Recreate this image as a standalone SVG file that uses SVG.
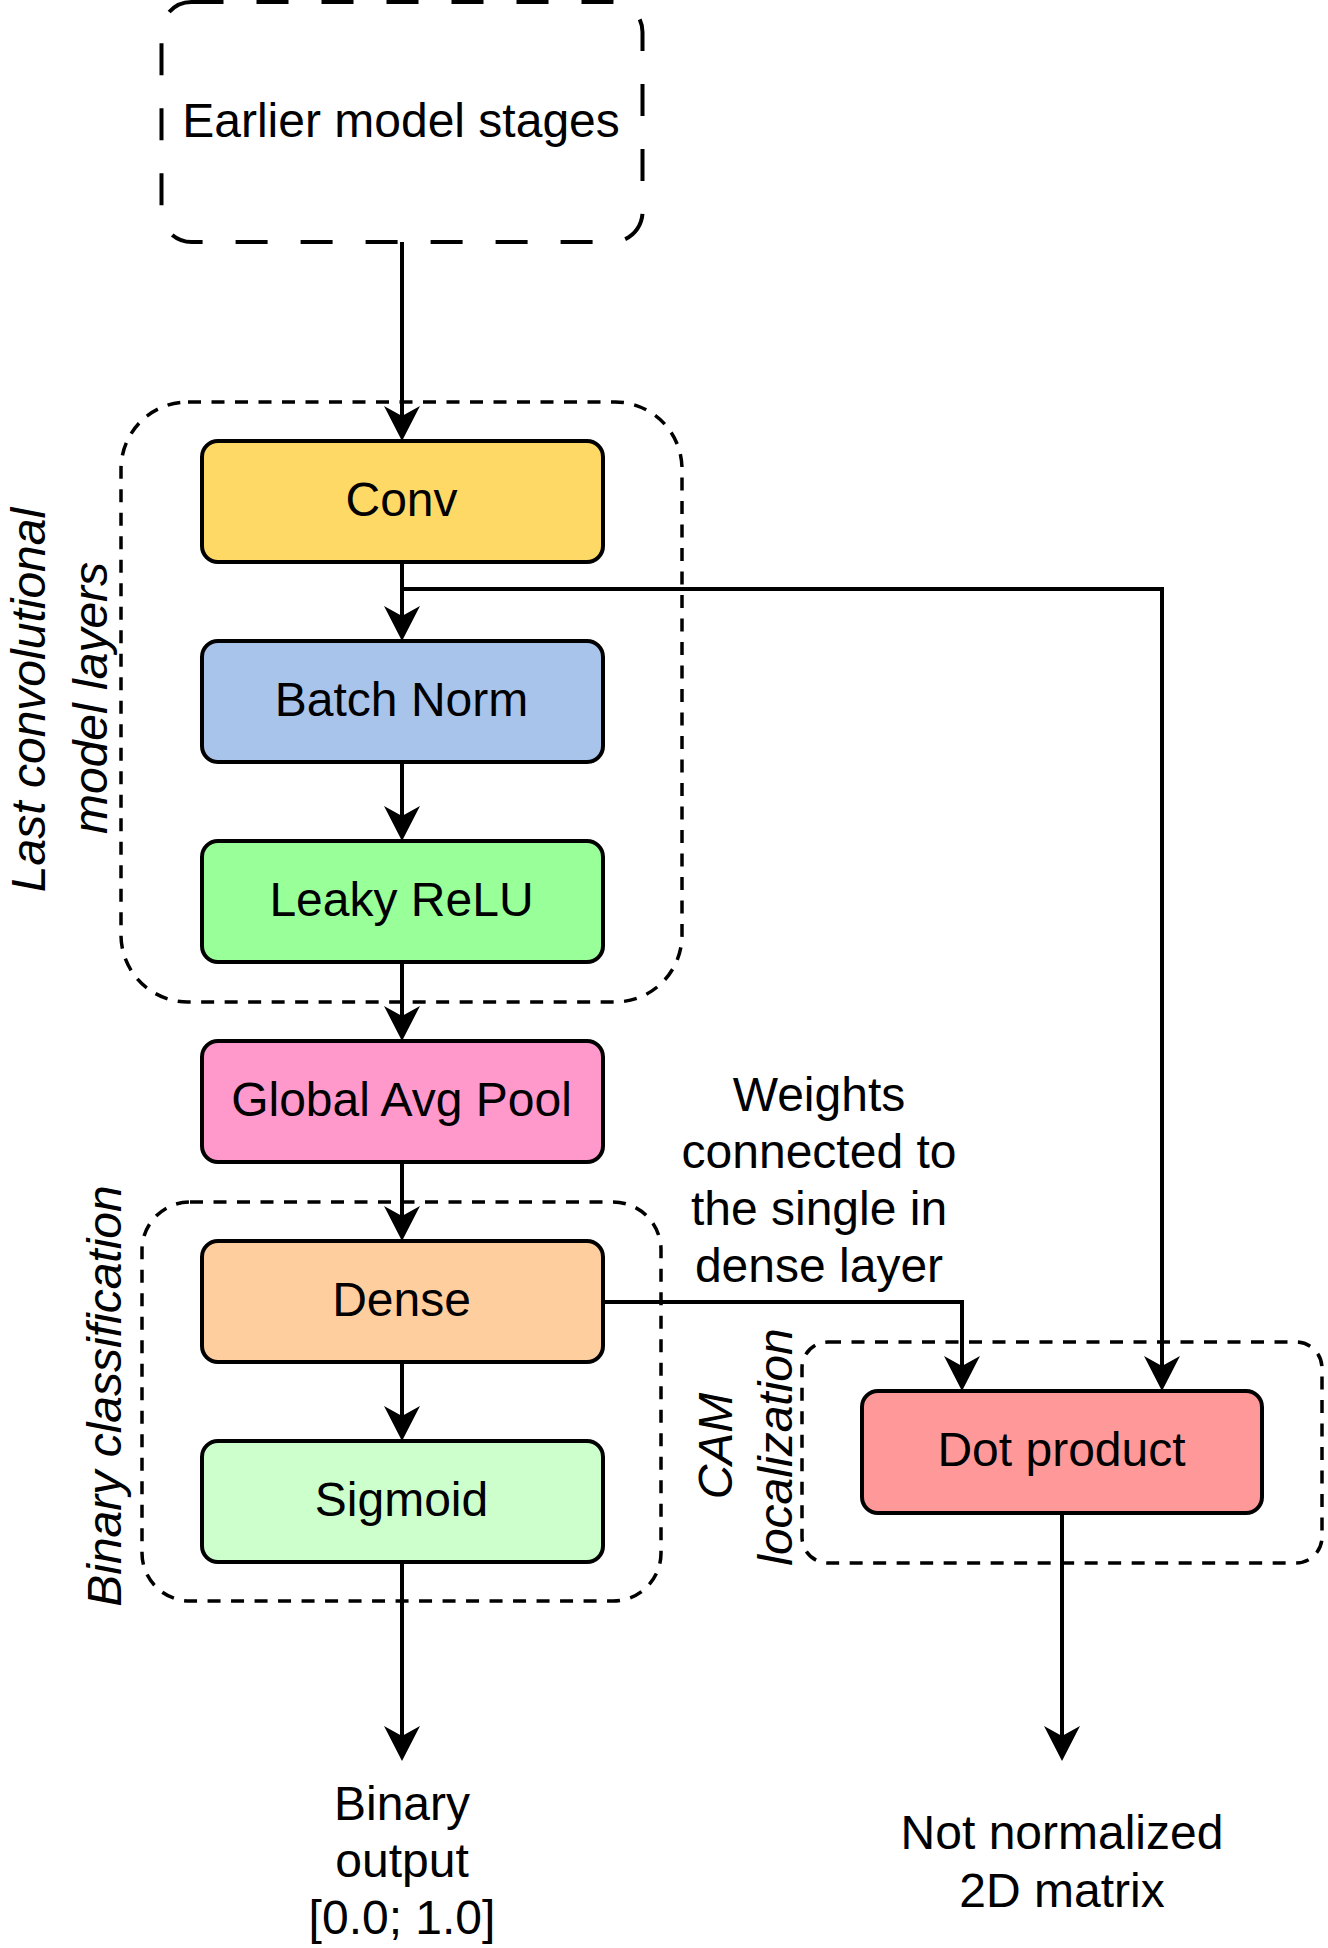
<svg xmlns="http://www.w3.org/2000/svg" width="1328" height="1948" viewBox="0 0 1328 1948">
<defs>
<style>
text{font-family:"Liberation Sans",Arial,Helvetica,sans-serif;font-size:48px;fill:#000;text-anchor:middle}
.it{font-style:italic}
.node{stroke:#000;stroke-width:4}
.grp{fill:none;stroke:#000;stroke-width:3.5;stroke-dasharray:13 10.5}
.grpL{fill:none;stroke:#000;stroke-width:4;stroke-dasharray:32 33}
.edge{fill:none;stroke:#000;stroke-width:4}
</style>
<marker id="arr" viewBox="-26 -19 37 38" refX="0" refY="0" markerWidth="37" markerHeight="38" markerUnits="userSpaceOnUse" orient="auto">
<path d="M10,0 L-25,-18 L-15,0 L-25,18 Z" fill="#000"/>
</marker>
</defs>
<rect width="1328" height="1948" fill="#fff"/>

<g id="earlier">
<rect class="grpL" x="161.5" y="2" width="481" height="240" rx="30"/>
<text x="401" y="137">Earlier model stages</text>
</g>

<g id="group-last-conv">
<rect class="grp" x="121" y="402" width="561" height="600" rx="67"/>
<text class="it" transform="translate(45,700) rotate(-90)">Last convolutional</text>
<text class="it" transform="translate(107,698) rotate(-90)">model layers</text>
</g>

<g id="group-binary">
<rect class="grp" x="142" y="1202" width="519" height="399" rx="48"/>
<text class="it" transform="translate(121,1396) rotate(-90)">Binary classification</text>
</g>

<g id="group-cam">
<rect class="grp" x="802" y="1342" width="520" height="221" rx="26"/>
<text class="it" transform="translate(732,1446) rotate(-90)">CAM</text>
<text class="it" transform="translate(792,1447) rotate(-90)">localization</text>
</g>

<g id="connectors">
<path class="edge" d="M402,242 L402,431" marker-end="url(#arr)"/>
<path class="edge" d="M402,562 L402,631" marker-end="url(#arr)"/>
<path class="edge" d="M402,589 L1162,589 L1162,1381" marker-end="url(#arr)"/>
<path class="edge" d="M402,761 L402,831" marker-end="url(#arr)"/>
<path class="edge" d="M402,962 L402,1031" marker-end="url(#arr)"/>
<path class="edge" d="M402,1162 L402,1231" marker-end="url(#arr)"/>
<path class="edge" d="M402,1362 L402,1431" marker-end="url(#arr)"/>
<path class="edge" d="M603,1302 L962,1302 L962,1381" marker-end="url(#arr)"/>
<path class="edge" d="M402,1562 L402,1751" marker-end="url(#arr)"/>
<path class="edge" d="M1062,1513 L1062,1751" marker-end="url(#arr)"/>
</g>

<g id="conv">
<rect class="node" x="202" y="441" width="401" height="121" rx="16" fill="#FFD966"/>
<text x="401.5" y="516">Conv</text>
</g>
<g id="batch-norm">
<rect class="node" x="202" y="641" width="401" height="121" rx="16" fill="#A9C4EB"/>
<text x="401.5" y="716">Batch Norm</text>
</g>
<g id="leaky-relu">
<rect class="node" x="202" y="841" width="401" height="121" rx="16" fill="#99FF99"/>
<text x="401.5" y="916">Leaky ReLU</text>
</g>
<g id="global-avg-pool">
<rect class="node" x="202" y="1041" width="401" height="121" rx="16" fill="#FF99CC"/>
<text x="401.5" y="1116">Global Avg Pool</text>
</g>
<g id="dense">
<rect class="node" x="202" y="1241" width="401" height="121" rx="16" fill="#FFCE9F"/>
<text x="401.5" y="1316">Dense</text>
</g>
<g id="sigmoid">
<rect class="node" x="202" y="1441" width="401" height="121" rx="16" fill="#CCFFCC"/>
<text x="401.5" y="1516">Sigmoid</text>
</g>
<g id="dot-product">
<rect class="node" x="862" y="1391" width="400" height="122" rx="16" fill="#FF9999"/>
<text x="1061.5" y="1466">Dot product</text>
</g>

<g id="weights-label">
<text x="819" y="1111">Weights</text>
<text x="819" y="1168">connected to</text>
<text x="819" y="1225">the single in</text>
<text x="819" y="1282">dense layer</text>
</g>

<g id="binary-output">
<text x="402" y="1820">Binary</text>
<text x="402" y="1877">output</text>
<text x="402" y="1934">[0.0; 1.0]</text>
</g>

<g id="cam-output">
<text x="1062" y="1849">Not normalized</text>
<text x="1062" y="1907">2D matrix</text>
</g>
</svg>
